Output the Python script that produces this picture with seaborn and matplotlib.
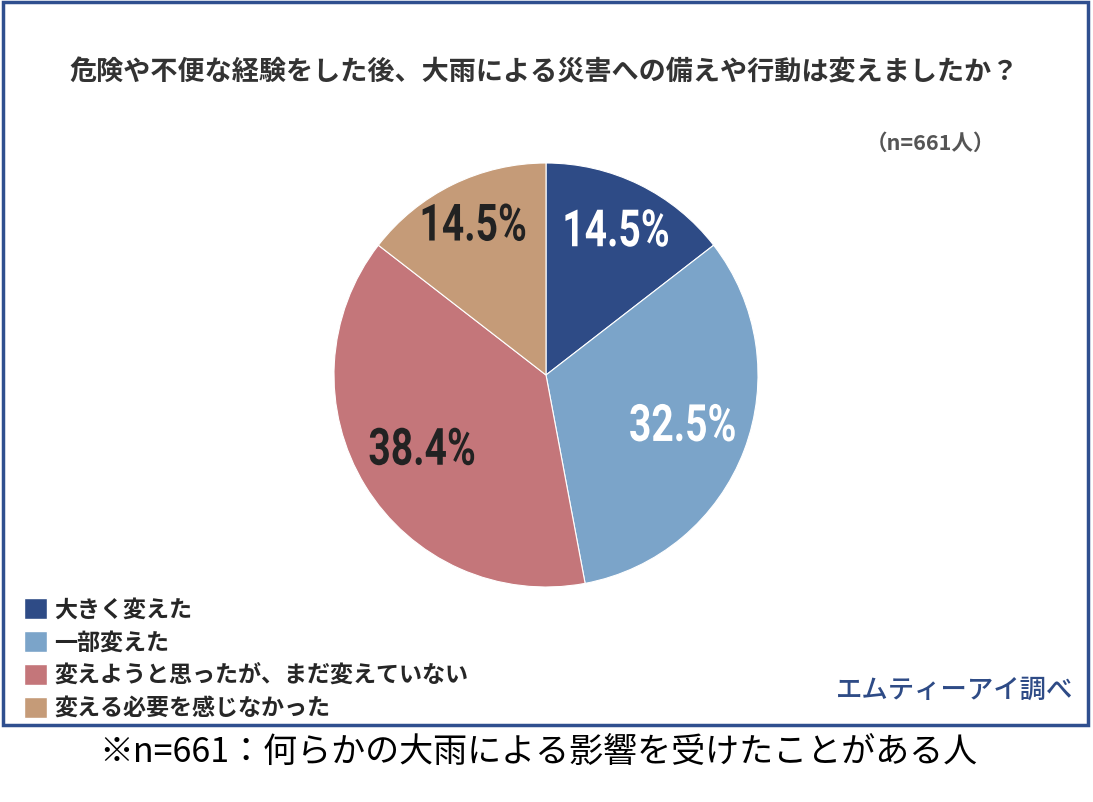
import matplotlib
matplotlib.use("Agg")
import numpy as np
import seaborn as sns
from matplotlib import pyplot as plt
from matplotlib.patches import Patch, Rectangle
from matplotlib.patheffects import AbstractPathEffect
from matplotlib.transforms import Affine2D

sns.set_theme(style="white")
plt.rcParams['font.family'] = ['Noto Sans CJK JP', 'DejaVu Sans']

# data
labels = ['大きく変えた', '一部変えた', '変えようと思ったが、まだ変えていない', '変える必要を感じなかった']
values = [14.5, 32.5, 38.4, 14.5]
colors = ['#2E4B86', '#7BA4C9', '#C4767A', '#C59B78']
pct_colors = ['white', 'white', '#222222', '#222222']
label_r = [0.75, 0.69, 0.685, 0.78]   # how far out each % label sits

title = '危険や不便な経験をした後、大雨による災害への備えや行動は変えましたか？'
n_note = '（n=661人）'
source = 'エムティーアイ調べ'
caption = '※n=661：何らかの大雨による影響を受けたことがある人'


class HScale(AbstractPathEffect):
    # squeeze glyphs horizontally around x0 (display px) -> condensed look
    def __init__(self, sx, x0):
        super().__init__()
        self.sx = sx
        self.x0 = x0

    def draw_path(self, renderer, gc, tpath, affine, rgbFace=None):
        squeeze = Affine2D().translate(-self.x0, 0).scale(self.sx, 1).translate(self.x0, 0)
        renderer.draw_path(gc, tpath, affine + squeeze, rgbFace)


W, H = 1093, 802
fig = plt.figure(figsize=(W / 100, H / 100), dpi=100)

# pie axes: centre (546, 375), radius 212 px
cx, cy, r = 546, 375, 212
ax = fig.add_axes([(cx - r) / W, 1 - (cy + r) / H, 2 * r / W, 2 * r / H])
wedges, texts, autotexts = ax.pie(
    values, colors=colors, startangle=90, counterclock=False,
    autopct='%.1f%%', pctdistance=0.72,
    wedgeprops=dict(edgecolor='white', linewidth=0.8),
    textprops=dict(fontsize=37, fontweight='bold', family=['Roboto', 'DejaVu Sans']))
ax.set_xlim(-1, 1)
ax.set_ylim(-1, 1)
ax.set_aspect('equal')
ax.axis('off')
for w, t, c, lr in zip(wedges, autotexts, pct_colors, label_r):
    mid = np.deg2rad((w.theta1 + w.theta2) / 2)
    t.set_position((lr * np.cos(mid), lr * np.sin(mid)))
    t.set_color(c)
    x0 = ax.transData.transform(t.get_position())[0]
    t.set_path_effects([HScale(0.76, x0)])

# frame
fig.patches.append(Rectangle((3 / W, 1 - 725 / H), 1085 / W, 723 / H,
                             transform=fig.transFigure, fill=False,
                             edgecolor='#2F4F8F', linewidth=2.5))

fig.text(544 / W, 1 - 72 / H, title, ha='center', va='center',
         fontsize=19.5, fontweight='bold', color='#333333')
fig.text(930 / W, 1 - 143 / H, n_note, ha='center', va='center',
         fontsize=15.5, fontweight='bold', color='#555555')
fig.text(955 / W, 1 - 690 / H, source, ha='center', va='center',
         fontsize=19, fontweight='medium', color='#2E4B86')
fig.text(538 / W, 1 - 752 / H, caption, ha='center', va='center',
         fontsize=24.5, color='black')

handles = [Patch(facecolor=c, label=l) for c, l in zip(colors, labels)]
fig.legend(handles=handles, loc='upper left', bbox_to_anchor=(15 / W, 1 - 589 / H),
           frameon=False, handlelength=1.0, handleheight=1.0,
           handletextpad=0.3, labelspacing=0.42, borderaxespad=0,
           prop=dict(size=16.6, weight='bold'))

fig.savefig('out.png', dpi=100)
